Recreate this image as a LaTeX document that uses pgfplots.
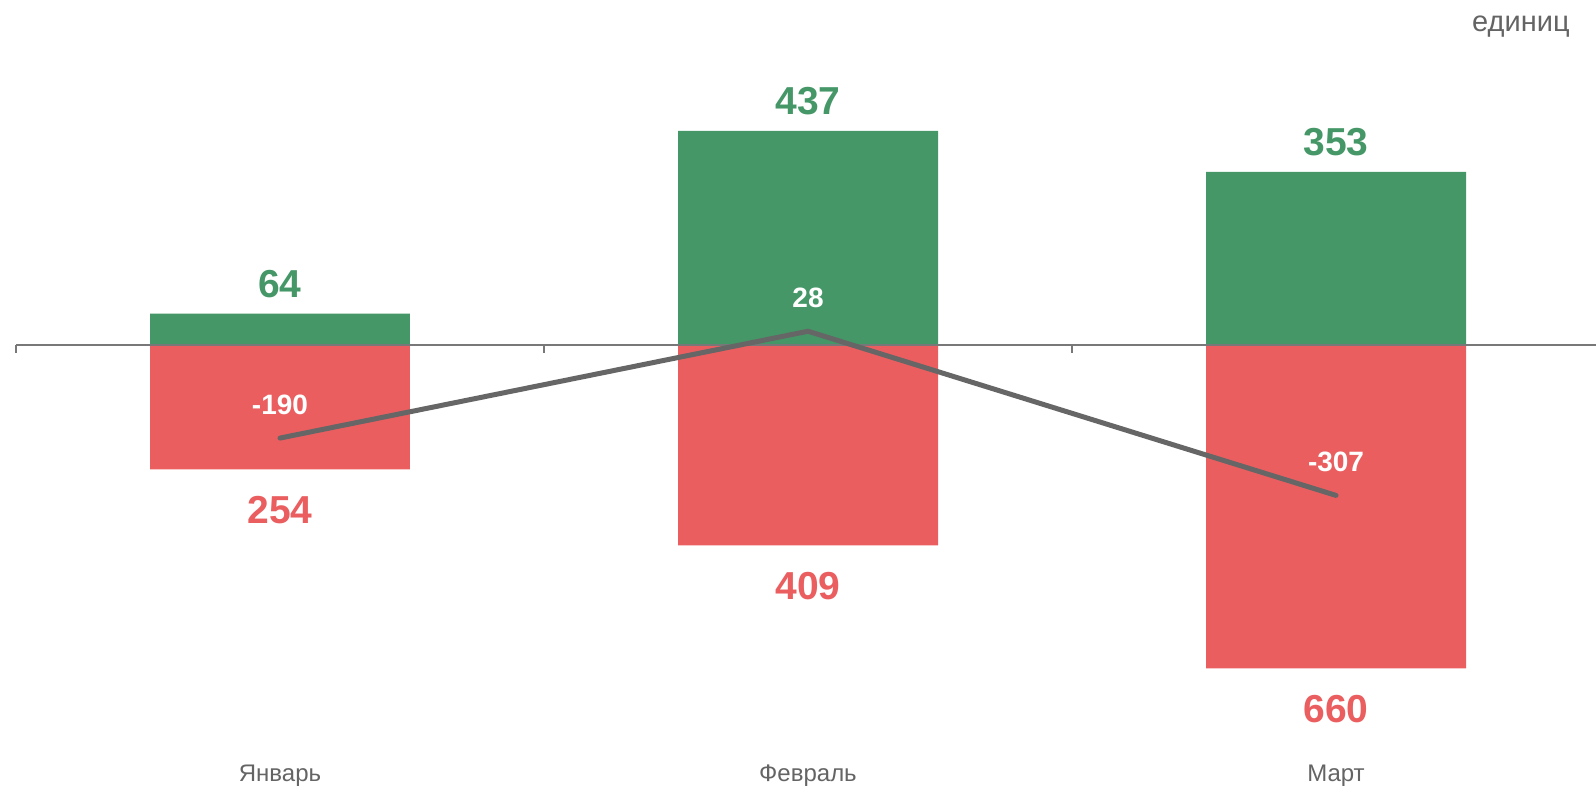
\documentclass[border=0pt]{standalone}
\usepackage{fontspec}
\setmainfont{Liberation Sans}
\usepackage{pgfplots}
\pgfplotsset{compat=1.18}

\definecolor{gainGreen}{RGB}{69,151,103}
\definecolor{lossRed}{RGB}{234,94,96}
\definecolor{netGray}{RGB}{102,102,102}
\definecolor{axisGray}{RGB}{120,120,120}
\definecolor{textGray}{RGB}{100,100,100}

\begin{document}
\begin{tikzpicture}
\begin{axis}[
    scale only axis,
    width=798pt, height=392.5pt,
    xmin=-0.5303, xmax=2.4924,
    ymin=-898, ymax=704,
    axis line style={draw=none},
    tick style={draw=none},
    xtick={0,1,2},
    xticklabels={Январь,Февраль,Март},
    ytick=\empty,
    xticklabel style={anchor=base, inner sep=0pt, yshift=6pt,
        font=\fontsize{12}{14}\selectfont, text=textGray},
    clip=false,
    ybar, bar width=0.4924, bar shift=0pt,
    point meta=explicit symbolic,
    nodes near coords,
]
% bars: plus / minus
\addplot[fill=gainGreen, draw=none,
    nodes near coords style={anchor=base, inner sep=0pt, yshift=8pt,
        text=gainGreen, font=\fontsize{19.5}{22}\selectfont\bfseries}]
    coordinates {(0,64) [64] (1,437) [437] (2,353) [353]};
\addplot[fill=lossRed, draw=none,
    nodes near coords style={anchor=base, inner sep=0pt, yshift=-27pt,
        text=lossRed, font=\fontsize{19.5}{22}\selectfont\bfseries}]
    coordinates {(0,-254) [254] (1,-409) [409] (2,-660) [660]};

% zero line with its ticks
\draw[axisGray, line width=1pt] (axis cs:-0.5,0) -- (axis cs:2.4924,0);
\draw[axisGray, line width=1pt] (axis cs:-0.5,0) -- ++(0pt,-4pt);
\draw[axisGray, line width=1pt] (axis cs:0.5,0) -- ++(0pt,-4pt);
\draw[axisGray, line width=1pt] (axis cs:1.5,0) -- ++(0pt,-4pt);

% net line
\addplot[sharp plot, netGray, line width=2.5pt, line cap=round,
    nodes near coords style={anchor=base, inner sep=0pt, yshift=12pt,
        text=white, font=\fontsize{14}{16}\selectfont\bfseries}]
    coordinates {(0,-190) [-190] (1,28) [28] (2,-307) [-307]};

\node[anchor=base east, inner sep=0pt, text=textGray,
    font=\fontsize{14.5}{16}\selectfont] at (axis cs:2.4432,639) {единиц};

\coordinate (bl) at (rel axis cs:0,0);
\coordinate (tr) at (rel axis cs:1,1);
\end{axis}
\pgfresetboundingbox
\useasboundingbox (bl) rectangle (tr);
\end{tikzpicture}
\end{document}
